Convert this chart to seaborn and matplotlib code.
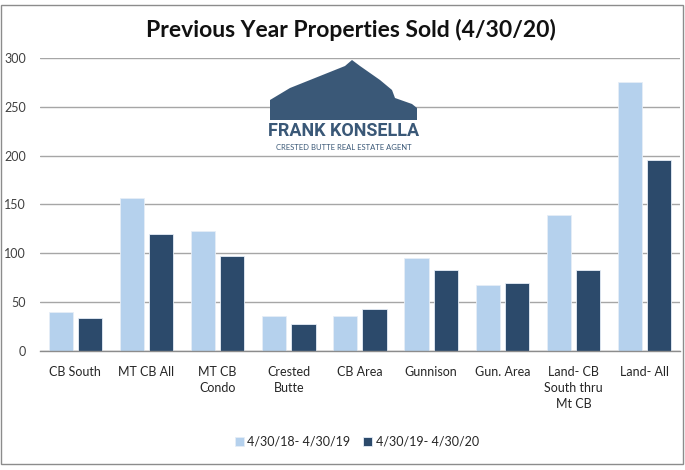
import matplotlib
matplotlib.use("Agg")
import matplotlib.pyplot as plt
import seaborn as sns
import pandas as pd
from matplotlib.patches import Rectangle, Polygon

categories = ["CB South", "MT CB All", "MT CB\nCondo", "Crested\nButte", "CB Area",
              "Gunnison", "Gun. Area", "Land- CB\nSouth thru\nMt CB", "Land- All"]
series_names = ["4/30/18- 4/30/19", "4/30/19- 4/30/20"]
prev_year = [40, 157, 123, 36, 36, 95, 68, 139, 275]
this_year = [34, 120, 97, 28, 43, 83, 70, 83, 195]
yticks = [0, 50, 100, 150, 200, 250, 300]
colors = ["#b5d1ed", "#2c4a6b"]

df = pd.DataFrame({
    "cat": categories * 2,
    "period": [series_names[0]] * len(categories) + [series_names[1]] * len(categories),
    "value": prev_year + this_year,
})

sns.set_theme(style="white")
plt.rcParams["font.family"] = ["Lato", "DejaVu Sans"]

fig = plt.figure(figsize=(6.85, 4.70), dpi=100)
ax = fig.add_axes([0.058, 0.253, 0.935, 0.624])

sns.barplot(data=df, x="cat", y="value", hue="period", palette=colors,
            width=0.82, gap=0.17, ax=ax, legend=True, saturation=1,
            edgecolor="#e6eef7", linewidth=0.6)

ax.set_ylim(0, 300)
ax.set_xlim(-0.5, len(categories) - 0.5)
ax.set_yticks(yticks)
ax.yaxis.grid(True, color="#a6a6a6", linewidth=1.0)
ax.set_axisbelow(True)
for s in ["left", "right", "top"]:
    ax.spines[s].set_visible(False)
ax.spines["bottom"].set_color("#8c8c8c")
ax.spines["bottom"].set_linewidth(1.0)
ax.set_xlabel("")
ax.set_ylabel("")
ax.tick_params(axis="y", length=0, pad=10, labelsize=9, labelcolor="#404040")
ax.tick_params(axis="x", length=0, pad=11, labelsize=9, labelcolor="#262626")
for lbl in ax.get_xticklabels():
    lbl.set_linespacing(1.4)

leg = ax.legend(loc="upper center", bbox_to_anchor=(0.495, -0.25), ncol=2,
                frameon=False, fontsize=9, handlelength=0.7, handleheight=0.7,
                handletextpad=0.3, columnspacing=1.0)
for t in leg.get_texts():
    t.set_color("#262626")

fig.text(0.512, 0.937, "Previous Year Properties Sold (4/30/20)", ha="center",
         va="center", fontsize=16.5, fontweight="bold", color="#111111")

# logo (decorative)
logo_col = "#3a5877"
W, H = 685, 470
def fx(x): return x / W
def fy(y): return 1 - y / H
mountain = [(270, 108), (270, 100), (290, 88), (310, 80), (330, 72), (345, 66),
            (352, 60), (360, 66), (380, 80), (392, 90), (395, 98), (412, 104),
            (417, 108), (417, 120), (270, 120)]
fig.patches.append(Polygon([(fx(x), fy(y)) for x, y in mountain], closed=True,
                           transform=fig.transFigure, facecolor=logo_col,
                           edgecolor="none", zorder=5))
fig.text(fx(344), fy(131), "FRANK KONSELLA", ha="center", va="center",
         fontsize=13, fontweight="bold", color=logo_col, zorder=6,
         family=["Roboto", "DejaVu Sans"])
fig.text(fx(344), fy(147), "CRESTED BUTTE REAL ESTATE AGENT", ha="center",
         va="center", fontsize=5.5, color=logo_col, zorder=6)

# outer border
fig.patches.append(Rectangle((fx(1), fy(464)), fx(682), fy(5) - fy(464),
                             transform=fig.transFigure, fill=False,
                             edgecolor="#8c8c8c", linewidth=1.0))

fig.savefig("out.png", dpi=100)
